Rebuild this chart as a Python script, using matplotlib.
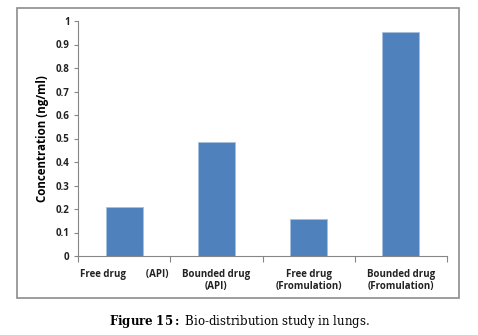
import matplotlib.pyplot as plt
from matplotlib.patches import Rectangle

# data
categories = ["Free drug        (API)", "Bounded drug\n(API)",
              "Free drug\n(Fromulation)", "Bounded drug\n(Fromulation)"]
values = [0.21, 0.485, 0.157, 0.952]
yticks = [0, 0.1, 0.2, 0.3, 0.4, 0.5, 0.6, 0.7, 0.8, 0.9, 1]
ytick_labels = ["0", "0.1", "0.2", "0.3", "0.4", "0.5", "0.6", "0.7", "0.8", "0.9", "1"]

W, H = 478, 335
fig = plt.figure(figsize=(W / 100, H / 100), dpi=100)
plt.rcParams['font.family'] = ['Open Sans', 'DejaVu Sans']
plt.rcParams['mathtext.fontset'] = 'dejavuserif'

# chart-area frame
fig.patches.append(Rectangle((17 / W, 1 - 298 / H), (459 - 17) / W, (298 - 8) / H,
                             transform=fig.transFigure, fill=False,
                             edgecolor="#8c8c8c", linewidth=1.2))

ax = fig.add_axes([78 / W, 1 - 256 / H, (447 - 78) / W, (256 - 21) / H])
x = range(len(categories))
ax.bar(x, values, width=0.4, color="#4f81bd", edgecolor="#a7bfde", linewidth=0.6)

ax.set_xlim(-0.5, len(categories) - 0.5)
ax.set_ylim(0, 1)
ax.set_yticks(yticks)
ax.set_yticklabels(ytick_labels, fontsize=7, fontweight="bold", color="#222222")
ax.set_xticks([i - 0.5 for i in range(len(categories) + 1)], minor=False)
ax.set_xticklabels([])
ax.set_xticks(list(x), minor=True)
ax.set_xticklabels(categories, minor=True, fontsize=7, fontweight="bold", color="#222222")
ax.tick_params(axis="x", which="minor", length=0, pad=9)
ax.tick_params(axis="x", which="major", length=4, color="#868686")
ax.tick_params(axis="y", length=3, color="#868686", pad=3)

for side in ["top", "right"]:
    ax.spines[side].set_visible(False)
for side in ["left", "bottom"]:
    ax.spines[side].set_color("#868686")

ax.set_ylabel("Concentration (ng/ml)", fontsize=8.3, fontweight="bold", labelpad=5)

fig.text(0.5, 1 - 322 / H, r"$\mathbf{Figure\ 15{:}}$ Bio-distribution study in lungs.",
         ha="center", va="center", fontsize=8.5, family="DejaVu Serif")

fig.savefig("out.png", dpi=100)
